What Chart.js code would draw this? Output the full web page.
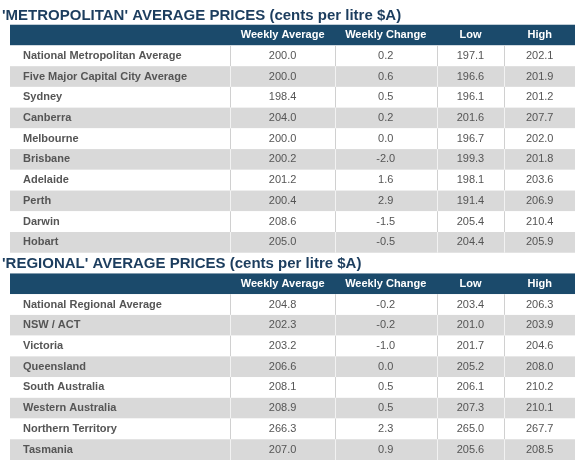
<!DOCTYPE html>
<html>
<head>
<meta charset="utf-8">
<script src="https://cdn.jsdelivr.net/npm/chart.js@4"></script>
<style>
  html, body { margin: 0; padding: 0; background: #fff; }
  #wrap { width: 577px; height: 462px; }
</style>
</head>
<body>
<div id="wrap"><canvas id="myChart"></canvas></div>
<script>
'use strict';

var columns = ['Weekly Average', 'Weekly Change', 'Low', 'High'];

var metroTitle = "'METROPOLITAN' AVERAGE PRICES (cents per litre $A)";
var metroNames = ['National Metropolitan Average', 'Five Major Capital City Average', 'Sydney', 'Canberra',
  'Melbourne', 'Brisbane', 'Adelaide', 'Perth', 'Darwin', 'Hobart'];
var metroAverage = [200.0, 200.0, 198.4, 204.0, 200.0, 200.2, 201.2, 200.4, 208.6, 205.0];
var metroChange = [0.2, 0.6, 0.5, 0.2, 0.0, -2.0, 1.6, 2.9, -1.5, -0.5];
var metroLow = [197.1, 196.6, 196.1, 201.6, 196.7, 199.3, 198.1, 191.4, 205.4, 204.4];
var metroHigh = [202.1, 201.9, 201.2, 207.7, 202.0, 201.8, 203.6, 206.9, 210.4, 205.9];

var regionTitle = "'REGIONAL' AVERAGE PRICES (cents per litre $A)";
var regionNames = ['National Regional Average', 'NSW / ACT', 'Victoria', 'Queensland', 'South Australia',
  'Western Australia', 'Northern Territory', 'Tasmania'];
var regionAverage = [204.8, 202.3, 203.2, 206.6, 208.1, 208.9, 266.3, 207.0];
var regionChange = [-0.2, -0.2, -1.0, 0.0, 0.5, 0.5, 2.3, 0.9];
var regionLow = [203.4, 201.0, 201.7, 205.2, 206.1, 207.3, 265.0, 205.6];
var regionHigh = [206.3, 203.9, 204.6, 208.0, 210.2, 210.1, 267.7, 208.5];

// column edges as share of table width (label column is widest)
var colEdges = [0, 39, 57.5, 75.5, 87.5, 100];

// build the row list: title, header, data rows per block
var rows = [];
function addBlock(title, names, avg, chg, low, high) {
  rows.push({ kind: 'title', text: title });
  rows.push({ kind: 'header' });
  for (var i = 0; i < names.length; i++) {
    rows.push({ kind: 'data', odd: i % 2 === 1, cells: [names[i], avg[i].toFixed(1), chg[i].toFixed(1),
      low[i].toFixed(1), high[i].toFixed(1)] });
  }
}
addBlock(metroTitle, metroNames, metroAverage, metroChange, metroLow, metroHigh);
addBlock(regionTitle, regionNames, regionAverage, regionChange, regionLow, regionHigh);

var rowLabels = rows.map(function (r, i) { return '' + i; });

var tablePlugin = {
  id: 'table',
  beforeDraw: function (chart) {
    var ctx = chart.ctx;
    var xs = chart.scales.x;
    var ys = chart.scales.y;
    var h = ys.getPixelForValue(1) - ys.getPixelForValue(0);
    var edges = colEdges.map(function (e) { return xs.getPixelForValue(e); });
    ctx.save();
    ctx.textBaseline = 'middle';
    rows.forEach(function (r, i) {
      var cy = ys.getPixelForValue(i);
      var top = cy - h / 2;
      if (r.kind === 'title') {
        ctx.fillStyle = '#1c3d5e';
        ctx.font = 'bold 15px "Liberation Sans", Arial, sans-serif';
        ctx.textAlign = 'left';
        ctx.fillText(r.text, edges[0] - 8, cy + 1);
        return;
      }
      if (r.kind === 'header') {
        ctx.fillStyle = '#1b4a6b';
        ctx.fillRect(edges[0], top, edges[5] - edges[0], h);
        ctx.fillStyle = '#ffffff';
        ctx.font = 'bold 11px "Liberation Sans", Arial, sans-serif';
        ctx.textAlign = 'center';
        for (var c = 0; c < columns.length; c++) {
          ctx.fillText(columns[c], (edges[c + 1] + edges[c + 2]) / 2, cy);
        }
        return;
      }
      ctx.fillStyle = r.odd ? '#d9d9d9' : '#ffffff';
      ctx.fillRect(edges[0], top, edges[5] - edges[0], h);
      ctx.strokeStyle = r.odd ? '#f2f2f2' : '#d0d0d0';
      ctx.lineWidth = 1;
      for (var k = 1; k < 5; k++) {
        ctx.beginPath();
        ctx.moveTo(Math.round(edges[k]) + 0.5, top);
        ctx.lineTo(Math.round(edges[k]) + 0.5, top + h);
        ctx.stroke();
      }
      ctx.fillStyle = '#555555';
      ctx.font = 'bold 11px "Liberation Sans", Arial, sans-serif';
      ctx.textAlign = 'left';
      ctx.fillText(r.cells[0], edges[0] + 13, cy);
      ctx.font = '11px "Liberation Sans", Arial, sans-serif';
      ctx.textAlign = 'center';
      for (var j = 1; j < 5; j++) {
        ctx.fillText(r.cells[j], (edges[j] + edges[j + 1]) / 2, cy);
      }
    });
    ctx.restore();
  }
};

var ctx = document.getElementById('myChart').getContext('2d');
var chart = new Chart(ctx, {
  type: 'scatter',
  data: {
    labels: rowLabels,
    datasets: [{ data: [], showLine: false }]
  },
  options: {
    responsive: true,
    maintainAspectRatio: false,
    animation: false,
    layout: { padding: { left: 10, right: 2, top: 4, bottom: 2 } },
    plugins: { legend: { display: false }, tooltip: { enabled: false } },
    scales: {
      x: { type: 'linear', min: 0, max: 100, display: false },
      y: { type: 'category', labels: rowLabels, offset: true, display: false }
    }
  },
  plugins: [tablePlugin]
});
</script>
</body>
</html>
